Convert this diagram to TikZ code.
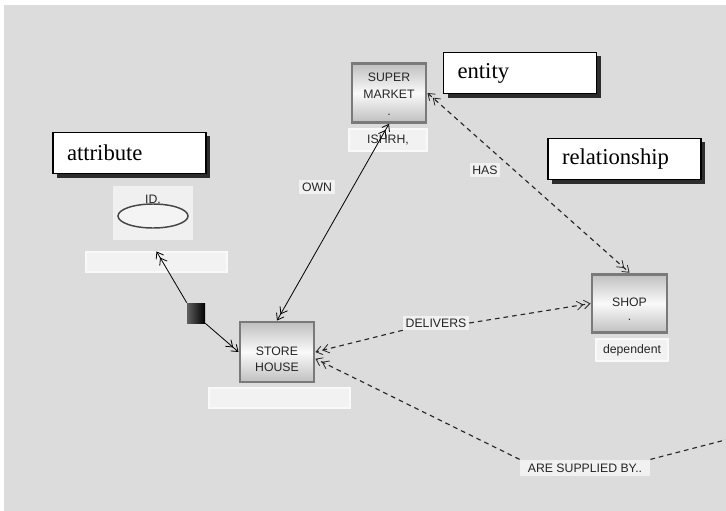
\documentclass[tikz,border=0pt]{standalone}
\usepackage{fontspec}
\setmainfont{Liberation Serif}
\newfontfamily\uisf{Liberation Sans}
\usetikzlibrary{arrows.meta,shadows,shapes.geometric}
\definecolor{canvas}{HTML}{DCDCDC}
\definecolor{framegray}{HTML}{7A7A7A}
\begin{document}
\begin{tikzpicture}[x=0.75pt,y=-0.75pt,
  barbs/.tip={Straight Barb[length=4.5pt,width=6.5pt,line width=0.6pt]Straight Barb[length=4.5pt,width=6.5pt,line width=0.6pt]},
  uitext/.style={font=\uisf\fontsize{9.2}{11}\selectfont, text=black!85},
  entitybox/.style={draw=framegray, line width=2.2pt, top color=gray!50, bottom color=gray!50,
    middle color=gray!4, minimum width=55.5pt, minimum height=44pt, inner sep=0pt},
  namebox/.style={draw=gray!5, fill=gray!10, line width=0.8pt, inner sep=0pt, uitext},
  relname/.style={fill=gray!11, inner xsep=2pt, inner ysep=2pt, uitext},
  callout/.style={draw=black, line width=0.9pt, fill=white, align=left,
    font=\fontsize{17}{20}\selectfont, text width=93.75pt, inner xsep=10.5pt, inner ysep=0pt,
    minimum height=31pt,
    drop shadow={shadow xshift=3pt, shadow yshift=-3pt, fill=gray!35!black, opacity=1}},
  solidlink/.style={draw=black, line width=0.6pt},
  dashlink/.style={draw=black!85, line width=0.85pt, dash pattern=on 3.5pt off 3pt}]

% canvas
\useasboundingbox (0,0) rectangle (726,511);
\fill[white] (0,0) rectangle (726,511);
\fill[canvas] (4,5) rectangle (726,511);

% legend callouts
\node[callout] (attrnote) at (129.5,153) {attribute};
\node[callout] (entitynote) at (520,73) {entity};
\node[callout] (relnote) at (624.5,159) {relationship};

% entities
\node[entitybox] (supermarket) at (389,93) {};
\node[uitext, align=center, font=\uisf\fontsize{9.2}{12.75}\selectfont] (supermarketText) at (389,94) {SUPER\\MARKET\\.};
\node[namebox, minimum width=58.5pt, minimum height=16.5pt] (supermarketKey) at (388,140) {ISHRH,};

\node[entitybox, minimum height=45pt] (storehouse) at (277,352) {};
\node[uitext, align=center, font=\uisf\fontsize{9.2}{12}\selectfont] (storehouseText) at (277,359) {STORE\\HOUSE};
\node[namebox, minimum width=105.75pt, minimum height=15pt] (storehouseKey) at (279.5,398) {};

\node[entitybox, minimum width=56.25pt] (shop) at (629.5,303.5) {};
\node[uitext] (shopText) at (629.5,302) {SHOP};
\node[uitext] (shopDot) at (629.5,320) {.};
\node[namebox, minimum width=54pt, minimum height=16.5pt] (shopKey) at (632,350) {dependent};

% attribute ID
\fill[gray!12] (113,186) rectangle (193,240);
\node[ellipse, draw=gray!55!black, fill=gray!9, line width=1.1pt, minimum width=52.5pt, minimum height=18pt, inner sep=0pt] (idattr) at (153,216) {};
\node[uitext] (idname) at (153,199) {ID.};
\node[namebox, minimum width=105.75pt, minimum height=15pt] (idlabel) at (156.5,262) {};
\node[left color=gray!75!black, right color=black, minimum width=13.5pt, minimum height=15pt, inner sep=0pt] (idrel) at (196,313) {};

% relationship names
\node[relname] (own) at (317,187) {OWN};
\node[relname] (has) at (485,170) {HAS};
\node[relname] (delivers) at (436,323) {DELIVERS};
\node[relname, inner xsep=6pt, inner ysep=3pt] (supplied) at (585,468) {ARE SUPPLIED BY..};
\coordinate (offedge) at (729,439);

% connectors
\draw[solidlink, -{barbs}] (idrel.north west) -- (idlabel.north);
\draw[solidlink, -{barbs}] (idrel.south east) -- (storehouse.west);
\draw[solidlink, {barbs}-{barbs}] (storehouse.north) -- (supermarket.south);
\draw[dashlink, {barbs}-{barbs}] (supermarket.east) -- (shop.north);
\draw[dashlink, -{barbs}] (delivers.south west) -- (storehouse.east);
\draw[dashlink, -{barbs}] (delivers.east) -- (shop.west);
\draw[dashlink, -{barbs}] (supplied.north west) -- (storehouse.-10);
\draw[dashlink] (supplied.north east) -- (offedge);
\end{tikzpicture}
\end{document}
